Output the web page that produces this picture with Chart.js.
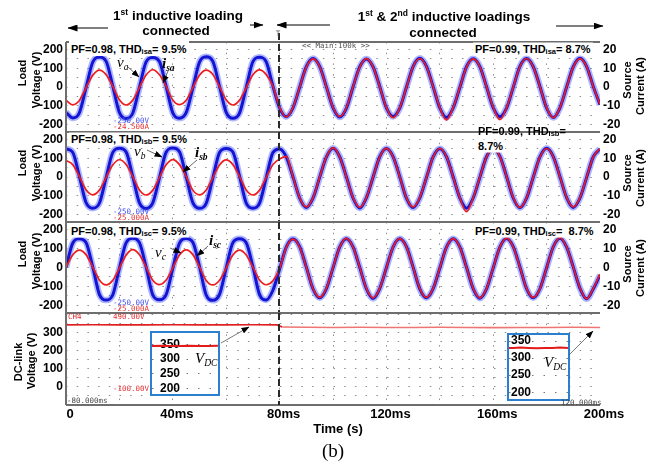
<!DOCTYPE html>
<html>
<head>
<meta charset="utf-8">
<script src="https://cdn.jsdelivr.net/npm/chart.js@4.4.1/dist/chart.umd.min.js"></script>
<style>
  html, body { margin: 0; padding: 0; background: #fff; }
  #fig { position: relative; width: 658px; height: 466px; overflow: hidden;
         font-family: "Liberation Sans", Arial, sans-serif; color: #000; }
  #fig canvas { position: absolute; left: 0; }
  #fig .inset canvas { position: static; display: block; }
  .t { position: absolute; white-space: nowrap; line-height: 1; transform: translateY(-50%); }
  .c { transform: translate(-50%, -50%); }
  .rot { transform: translate(-50%, -50%) rotate(-90deg); }
  .hdr { font-weight: bold; font-size: 13.5px; }
  .hdr sup { font-size: 8.5px; vertical-align: 5px; line-height: 0; }
  .pf { font-weight: bold; font-size: 11px; }
  .pf sub { font-size: 7.5px; vertical-align: -1px; line-height: 0; }
  .bg { background: #fff; padding: 1px 2px; }
  .ax { font-weight: bold; font-size: 11px; }
  .sig { font-family: "Liberation Serif", "Times New Roman", serif; font-style: italic; font-size: 15px; }
  .sig sub { font-size: 9.5px; vertical-align: -3px; line-height: 0; }
  .sig.b { font-weight: bold; }
  .scope { font-family: "DejaVu Sans Mono", monospace; font-size: 7.5px; }
  .inset { position: absolute; border: 2.5px solid #2a7fcf; background: #fff; }
  svg { position: absolute; left: 0; top: 0; }
</style>
</head>
<body>
<div id="fig">
  <canvas id="panelA" width="658" height="114" style="top:30px"></canvas>
  <canvas id="panelB" width="658" height="114" style="top:120px"></canvas>
  <canvas id="panelC" width="658" height="115" style="top:210px"></canvas>
  <canvas id="panelD" width="658" height="130" style="top:301px"></canvas>

  <div class="inset" style="left:150px;top:331px"><canvas id="insetL" width="66" height="61"></canvas></div>
  <div class="inset" style="left:507px;top:333px"><canvas id="insetR" width="59" height="64"></canvas></div>

  <svg width="658" height="466">
    <defs>
      <marker id="head" markerWidth="10" markerHeight="7" refX="9.5" refY="3.5" orient="auto" markerUnits="userSpaceOnUse">
        <path d="M0,0 L10,3.5 L0,7 z" fill="#000"/>
      </marker>
      <marker id="tip" markerWidth="8" markerHeight="6" refX="7.5" refY="3" orient="auto" markerUnits="userSpaceOnUse">
        <path d="M0,0 L8,3 L0,6 z" fill="#000"/>
      </marker>
    </defs>
    <!-- loading interval arrows -->
    <line x1="108" y1="28" x2="68" y2="28" stroke="#000" stroke-width="1" marker-end="url(#head)"/>
    <line x1="250" y1="25" x2="263" y2="25" stroke="#000" stroke-width="1" marker-end="url(#head)"/>
    <line x1="330" y1="25" x2="277" y2="25" stroke="#000" stroke-width="1" marker-end="url(#head)"/>
    <line x1="556" y1="26" x2="603" y2="26" stroke="#000" stroke-width="1" marker-end="url(#head)"/>
    <!-- waveform callouts -->
    <line x1="128" y1="67" x2="139" y2="77" stroke="#444" stroke-width="0.8" marker-end="url(#tip)"/>
    <line x1="168" y1="71" x2="163" y2="83" stroke="#444" stroke-width="0.8" marker-end="url(#tip)"/>
    <line x1="147" y1="150" x2="162" y2="157" stroke="#444" stroke-width="0.8" marker-end="url(#tip)"/>
    <line x1="197" y1="160" x2="183" y2="172" stroke="#444" stroke-width="0.8" marker-end="url(#tip)"/>
    <line x1="170" y1="248" x2="181" y2="253" stroke="#444" stroke-width="0.8" marker-end="url(#tip)"/>
    <line x1="208" y1="246" x2="197" y2="256" stroke="#444" stroke-width="0.8" marker-end="url(#tip)"/>
    <!-- DC-link zoom callouts -->
    <line x1="221" y1="343" x2="249" y2="327" stroke="#555" stroke-width="0.8" marker-end="url(#tip)"/>
    <line x1="569" y1="355" x2="593" y2="331" stroke="#555" stroke-width="0.8" marker-end="url(#tip)"/>
  </svg>

  <div class="t c hdr" style="left:178px;top:16px">1<sup>st</sup> inductive loading</div>
  <div class="t c hdr" style="left:176px;top:31px">connected</div>
  <div class="t c hdr" style="left:444px;top:17px">1<sup>st</sup> &amp; 2<sup>nd</sup> inductive loadings</div>
  <div class="t c hdr" style="left:443px;top:33px">connected</div>
  <div class="t c scope" style="left:278px;top:34px;color:#666">T</div>
  <div class="t scope" style="left:302px;top:46px;color:#555">&lt;&lt; Main:100k &gt;&gt;</div>

  <div class="t pf bg" style="left:69px;top:48px;padding-top:4px">PF=0.98, THD<sub>isa</sub>= 9.5%</div>
  <div class="t pf bg" style="left:473px;top:49px">PF=0.99, THD<sub>isa</sub>= 8.7%</div>
  <div class="t pf bg" style="left:69px;top:139px">PF=0.98, THD<sub>isb</sub>= 9.5%</div>
  <div class="t pf" style="left:478px;top:131px">PF=0.99, THD<sub>isb</sub>=</div>
  <div class="t pf bg" style="left:476px;top:146px">8.7%</div>
  <div class="t pf bg" style="left:69px;top:231px">PF=0.98, THD<sub>isc</sub>= 9.5%</div>
  <div class="t pf bg" style="left:473px;top:231px">PF=0.99, THD<sub>isc</sub>=&nbsp; 8.7%</div>

  <div class="t sig" style="left:117px;top:62px">v<sub>a</sub></div>
  <div class="t sig b" style="left:162px;top:63px">i<sub>sa</sub></div>
  <div class="t sig" style="left:134px;top:151px">v<sub>b</sub></div>
  <div class="t sig b" style="left:195px;top:152px">i<sub>sb</sub></div>
  <div class="t sig" style="left:155px;top:252px">v<sub>c</sub></div>
  <div class="t sig b" style="left:209px;top:240px">i<sub>sc</sub></div>

  <div class="t scope" style="left:113px;top:121px;color:#3e4ef2">-250.00V</div>
  <div class="t scope" style="left:113px;top:127px;color:#e53030">-24.500A</div>
  <div class="t scope" style="left:113px;top:211.5px;color:#3e4ef2">-250.00V</div>
  <div class="t scope" style="left:113px;top:218px;color:#e53030">-25.000A</div>
  <div class="t scope" style="left:113px;top:302.5px;color:#3e4ef2">-250.00V</div>
  <div class="t scope" style="left:113px;top:309px;color:#e53030">-25.000A</div>
  <div class="t scope" style="left:68px;top:317px;color:#e53030">CH4</div>
  <div class="t scope" style="left:113px;top:317px;color:#e53030">490.00V</div>
  <div class="t scope" style="left:113px;top:389px;color:#e53030">-100.00V</div>
  <div class="t scope" style="left:67px;top:401px;color:#444">-80.000ms</div>
  <div class="t scope" style="left:561px;top:403px;color:#444">120.000ms</div>

  <div class="t sig" style="left:195px;top:358px">V<sub>DC</sub></div>
  <div class="t sig" style="left:544px;top:362px">V<sub>DC</sub></div>

  <div class="t rot ax" style="left:22px;top:73px">Load</div>
  <div class="t rot ax" style="left:36px;top:80px">Voltage (V)</div>
  <div class="t rot ax" style="left:22px;top:163px">Load</div>
  <div class="t rot ax" style="left:36px;top:173px">Voltage (V)</div>
  <div class="t rot ax" style="left:22px;top:254px">Load</div>
  <div class="t rot ax" style="left:36px;top:261px">Voltage (V)</div>
  <div class="t rot ax" style="left:18px;top:362px">DC-link</div>
  <div class="t rot ax" style="left:31px;top:361px">Voltage (V)</div>
  <div class="t rot ax" style="left:627px;top:80px">Source</div>
  <div class="t rot ax" style="left:640px;top:86px">Current (A)</div>
  <div class="t rot ax" style="left:627px;top:173px">Source</div>
  <div class="t rot ax" style="left:640px;top:178px">Current (A)</div>
  <div class="t rot ax" style="left:627px;top:264px">Source</div>
  <div class="t rot ax" style="left:640px;top:268px">Current (A)</div>

  <div class="t c" style="left:338px;top:428px;font-weight:bold;font-size:13px">Time (s)</div>
  <div class="t c" style="left:333px;top:450px;font-family:'Liberation Serif',serif;font-size:19px">(b)</div>
</div>

<script>
// sampling instants of the phase records (ms)
const timeMs = [0, 2.5, 5, 7.5, 10, 12.5, 15, 17.5, 20, 22.5, 25, 27.5, 30, 32.5, 35, 37.5,
  40, 42.5, 45, 47.5, 50, 52.5, 55, 57.5, 60, 62.5, 65, 67.5, 70, 72.5, 75, 77.5,
  80, 82.5, 85, 87.5, 90, 92.5, 95, 97.5, 100, 102.5, 105, 107.5, 110, 112.5, 115, 117.5,
  120, 122.5, 125, 127.5, 130, 132.5, 135, 137.5, 140, 142.5, 145, 147.5, 150, 152.5, 155, 157.5,
  160, 162.5, 165, 167.5, 170, 172.5, 175, 177.5, 180, 182.5, 185, 187.5, 190, 192.5, 195, 197.5, 200];

// load voltages (V), one row per 20 ms cycle
const vLoadA = [
  -135, -165, -138, -4, 132, 160, 138, 6,
  -136, -168, -140, -2, 134, 158, 136, 4,
  -138, -166, -137, -6, 133, 161, 137, 3,
  -135, -167, -139, -3, 135, 159, 134, 5,
  -112, -158, -112, -2, 108, 152, 110, 2,
  -110, -160, -114, 0, 107, 150, 108, 3,
  -111, -157, -113, -1, 109, 153, 110, 2,
  -112, -162, -112, -3, 108, 151, 109, 1,
  -110, -159, -113, -2, 110, 152, 108, 3,
  -112, -163, -111, 0, 108, 153, 109, 2,
  -95];
const vLoadB = [
  150, 132, 4, -136, -166, -140, -5, 130,
  153, 134, 3, -138, -168, -138, -4, 132,
  155, 135, 2, -137, -167, -141, -6, 131,
  152, 133, 4, -139, -166, -139, -3, 130,
  150, 108, 2, -112, -162, -113, -2, 106,
  153, 108, 1, -112, -165, -111, -1, 108,
  152, 109, 2, -113, -163, -112, -3, 107,
  151, 108, 1, -111, -166, -112, -2, 108,
  152, 110, 3, -112, -164, -113, -1, 107,
  153, 109, 2, -110, -162, -112, -2, 108,
  150];
const vLoadC = [
  0, 128, 152, 132, 4, -142, -172, -145,
  -4, 130, 154, 131, 3, -144, -170, -143,
  -5, 129, 153, 133, 5, -145, -173, -142,
  -3, 131, 151, 130, 4, -143, -171, -120,
  -8, 108, 150, 110, 2, -112, -160, -113,
  -2, 108, 152, 109, 1, -112, -163, -111,
  -1, 108, 151, 110, 2, -113, -160, -112,
  -3, 107, 152, 109, 1, -111, -162, -113,
  -2, 108, 153, 110, 3, -112, -160, -112,
  -1, 109, 154, 108, 2, -110, -165, -112,
  -40];

// source currents (A)
const iSrcA = [
  -7.0, -9.5, -7.2, -0.4, 6.2, 9.0, 6.6, 0.4,
  -6.8, -9.6, -7.0, -0.2, 6.4, 9.2, 6.5, 0.3,
  -6.9, -9.4, -7.1, -0.3, 6.3, 9.0, 6.7, 0.2,
  -6.8, -9.6, -7.0, -0.4, 6.5, 9.1, 6.6, 0.4,
  -10.8, -16.0, -11.0, -0.1, 10.6, 15.0, 10.8, 0.1,
  -10.8, -15.8, -11.2, 0.1, 10.5, 15.1, 10.7, 0.2,
  -11.0, -16.4, -11.1, -0.2, 10.8, 15.2, 10.8, 0.1,
  -11.0, -17.6, -11.0, -0.2, 10.6, 15.0, 10.8, 0.1,
  -10.8, -17.4, -11.1, -0.1, 10.8, 15.2, 10.7, 0.2,
  -11.0, -16.4, -11.0, 0.0, 10.6, 15.1, 10.8, 0.1,
  -9.2];
const iSrcB = [
  8.8, 6.6, 0.3, -6.8, -9.5, -7.0, -0.3, 6.4,
  9.2, 6.7, 0.2, -6.9, -9.6, -7.0, -0.2, 6.5,
  9.3, 6.6, 0.3, -7.0, -9.5, -6.9, -0.3, 6.4,
  9.1, 6.6, 0.2, -6.9, -9.6, -7.0, -0.2, 6.6,
  9.6, 11.0, 0.1, -11.0, -16.0, -11.1, -0.1, 10.7,
  15.5, 10.8, 0.0, -11.0, -16.2, -11.0, -0.1, 10.7,
  15.3, 10.8, 0.1, -11.1, -16.0, -11.0, -0.2, 10.6,
  15.2, 10.8, 0.0, -11.0, -18.5, -11.1, -0.1, 10.7,
  15.4, 10.9, 0.2, -11.0, -16.3, -11.1, -0.1, 10.6,
  15.2, 10.8, 0.1, -10.9, -16.0, -11.0, -0.1, 10.7,
  15.1];
const iSrcC = [
  0.0, 6.6, 9.2, 6.8, 0.3, -6.6, -9.2, -6.8,
  -0.3, 6.5, 9.4, 6.7, 0.2, -6.7, -9.0, -6.6,
  -0.2, 6.6, 9.3, 6.8, 0.3, -6.8, -9.2, -6.7,
  -0.3, 6.6, 9.2, 6.6, 0.2, -6.6, -9.1, -7.0,
  -0.6, 10.6, 15.0, 10.8, 0.1, -11.0, -15.8, -11.0,
  -0.1, 10.7, 15.4, 10.8, 0.1, -11.0, -16.0, -11.0,
  -0.1, 10.8, 15.2, 10.8, 0.1, -11.1, -15.8, -11.0,
  -0.2, 10.6, 15.2, 10.8, 0.0, -11.0, -16.0, -11.1,
  -0.1, 10.7, 15.5, 10.8, 0.2, -11.0, -15.8, -11.1,
  -0.1, 10.8, 15.8, 10.8, 0.1, -10.8, -16.5, -11.0,
  -3.5];

// DC-link voltage (V)
const dcTimeMs = [0, 10, 20, 30, 40, 50, 60, 70, 79, 81, 90, 100, 110, 120, 130, 140, 150, 160, 170, 180, 190, 200];
const dcVolts  = [344, 345, 344, 344, 345, 344, 344, 345, 344, 332, 331, 330, 331, 330, 330, 331, 330, 329, 330, 330, 331, 330];

// tick labels
const timeTicksMs   = [0, 40, 80, 120, 160, 200];
const loadTicksV    = [-200, -100, 0, 100, 200];
const currentTicksA = [-20, -10, 0, 10, 20];
const dcTicksV      = [0, 100, 200, 300];
const insetTicksV   = [200, 250, 300, 350];

const SWITCH_MS = 80;     // second inductive load switched in
const GRID = '#8e8e8e';
const DOTS = [1.5, 9.2];

Chart.defaults.font.family = '"Liberation Sans", Arial, sans-serif';
Chart.defaults.color = '#000';

const toPoints = (xs, ys) => xs.map((x, i) => ({ x, y: ys[i] }));

// scope frame plus the dashed marker at the switching instant
const scopeFrame = {
  id: 'scopeFrame',
  afterDatasetsDraw(chart, args, opts) {
    const { ctx, chartArea: a, scales: { x } } = chart;
    ctx.save();
    ctx.strokeStyle = '#6e6e6e';
    ctx.lineWidth = 2;
    ctx.beginPath();
    ctx.moveTo(a.left, a.top); ctx.lineTo(a.right, a.top);
    ctx.moveTo(a.left, a.bottom); ctx.lineTo(a.right, a.bottom);
    ctx.moveTo(a.left, a.top); ctx.lineTo(a.left, a.bottom);
    ctx.stroke();
    const xs = Math.round(x.getPixelForValue(opts.switchAt)) - 1;
    ctx.setLineDash([7, 4]);
    ctx.strokeStyle = '#2a2a2a';
    ctx.beginPath();
    ctx.moveTo(xs, a.top - (opts.rise || 0));
    ctx.lineTo(xs, a.bottom);
    ctx.stroke();
    ctx.restore();
  }
};

function timeAxis(withLabels) {
  return {
    type: 'linear', min: 0, max: 200,
    ticks: {
      stepSize: 20, autoSkip: false, maxRotation: 0, display: withLabels,
      padding: 2, labelOffset: 4, font: { size: 13, weight: 'bold' },
      callback: v => timeTicksMs.includes(v) ? (v === 0 ? '0' : v + 'ms') : ''
    },
    grid: {
      drawTicks: false,
      color: c => (c.tick && (c.tick.value === 0 || c.tick.value === 200)) ? 'rgba(0,0,0,0)' : GRID
    },
    border: { display: false, dash: DOTS },
    afterFit: s => { s.height = withLabels ? 20 : 0; s.paddingLeft = 0; s.paddingRight = 0; }
  };
}

function leftAxis(min, max, labels) {
  return {
    type: 'linear', position: 'left', min, max,
    ticks: {
      stepSize: 50, autoSkip: false, includeBounds: false, padding: 3,
      font: { size: 12, weight: 'bold' },
      callback: v => labels.includes(v) ? String(v) : ''
    },
    grid: {
      drawTicks: false,
      color: c => (c.tick && c.tick.value === min) ? 'rgba(0,0,0,0)' : GRID
    },
    border: { display: false, dash: DOTS },
    afterFit: s => { s.width = 66; s.paddingTop = 0; s.paddingBottom = 0; }
  };
}

function phasePanel(id, volts, amps, rise) {
  return new Chart(document.getElementById(id), {
    type: 'line',
    data: {
      datasets: [
        { data: toPoints(timeMs, amps), yAxisID: 'y2', borderColor: '#f01c1c', borderWidth: 1.7 },
        { data: toPoints(timeMs, volts), yAxisID: 'y', borderColor: '#1414d4', borderWidth: 3 },
        { data: toPoints(timeMs, volts), yAxisID: 'y', borderColor: 'rgba(60,80,250,0.42)', borderWidth: 6.5 }
      ]
    },
    options: {
      responsive: false, animation: false,
      layout: { padding: { top: 12, bottom: 12, left: 0, right: 0 } },
      elements: { point: { radius: 0 }, line: { cubicInterpolationMode: 'monotone' } },
      plugins: { legend: { display: false }, tooltip: { enabled: false },
                 scopeFrame: { switchAt: SWITCH_MS, rise } },
      scales: {
        x: timeAxis(false),
        y: leftAxis(-240, 240, loadTicksV),
        y2: {
          type: 'linear', position: 'right', min: -24, max: 24,
          ticks: {
            stepSize: 10, autoSkip: false, includeBounds: false, padding: 3,
            font: { size: 12, weight: 'bold' },
            callback: v => currentTicksA.includes(v) ? String(v) : ''
          },
          grid: { drawOnChartArea: false, drawTicks: false },
          border: { display: false },
          afterFit: s => { s.width = 58; s.paddingTop = 0; s.paddingBottom = 0; }
        }
      }
    },
    plugins: [scopeFrame]
  });
}

phasePanel('panelA', vLoadA, iSrcA, 9);
phasePanel('panelB', vLoadB, iSrcB, 0);
phasePanel('panelC', vLoadC, iSrcC, 0);

const dcPoints = toPoints(dcTimeMs, dcVolts);

new Chart(document.getElementById('panelD'), {
  type: 'line',
  data: {
    datasets: [{
      data: dcPoints, borderColor: '#e02020', borderWidth: 1.6,
      segment: { borderColor: s => s.p0.parsed.x >= SWITCH_MS ? '#ef7474' : '#e02020' }
    }]
  },
  options: {
    responsive: false, animation: false,
    layout: { padding: { top: 12, bottom: 6, left: 0, right: 58 } },
    elements: { point: { radius: 0 } },
    plugins: { legend: { display: false }, tooltip: { enabled: false },
               scopeFrame: { switchAt: SWITCH_MS, rise: 0 } },
    scales: {
      x: timeAxis(true),
      y: leftAxis(-100, 410, dcTicksV)
    }
  },
  plugins: [scopeFrame]
});

// magnified DC-link views
function insetChart(id, xMin, xMax, yMin, yMax, pad) {
  return new Chart(document.getElementById(id), {
    type: 'line',
    data: { datasets: [{ data: dcPoints, borderColor: '#e31b1b', borderWidth: 2 }] },
    options: {
      responsive: false, animation: false,
      layout: { padding: 0 },
      elements: { point: { radius: 0 } },
      plugins: { legend: { display: false }, tooltip: { enabled: false } },
      scales: {
        x: { type: 'linear', min: xMin, max: xMax, display: false },
        y: {
          type: 'linear', min: yMin, max: yMax,
          ticks: {
            stepSize: 50, autoSkip: false, includeBounds: false, mirror: true, padding: pad,
            font: { size: 12, weight: 'bold' },
            callback: v => insetTicksV.includes(v) ? String(v) : ''
          },
          grid: { color: '#777', drawTicks: false },
          border: { display: false, dash: [1.5, 10] },
          afterFit: s => { s.width = 0; s.paddingTop = 0; s.paddingBottom = 0; }
        }
      }
    }
  });
}

insetChart('insetL', 0, 70, 182, 388, 8);
insetChart('insetR', 125, 200, 180, 368, 2);
</script>
</body>
</html>
